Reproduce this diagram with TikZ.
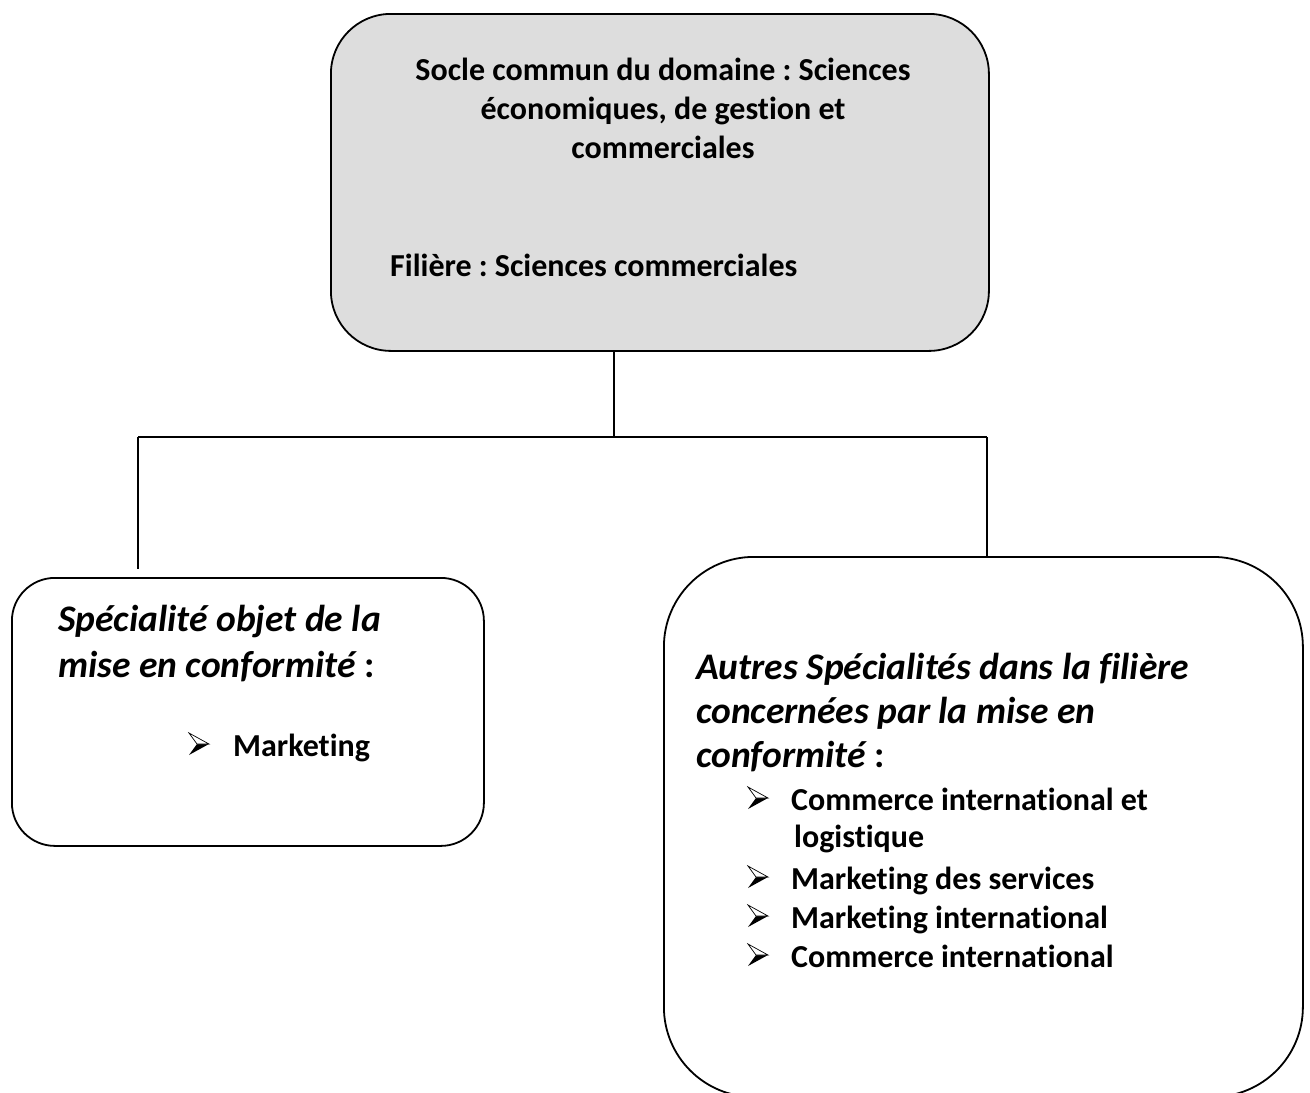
\documentclass[tikz,border=0pt]{standalone}
\usepackage{fontspec}
\setmainfont[Ligatures=NoCommon]{Carlito}
\definecolor{boxgray}{HTML}{DDDDDD}
\frenchspacing
\begin{document}
\begin{tikzpicture}[x=1pt,y=-1pt,
  box/.style={draw=black, line width=1.8pt, anchor=north west, inner sep=0pt},
  link/.style={draw=black, line width=1.5pt},
  txt/.style={inner sep=0pt, anchor=base west, font=\fontsize{32}{38}\selectfont\bfseries},
  ctxt/.style={txt, anchor=base},
  itxt/.style={inner sep=0pt, anchor=base west, font=\fontsize{37.5}{44}\selectfont\bfseries\itshape},
  wbul/.pic={
    \fill[black] (0,-1) -- (20,-12) -- (8,-12) -- cycle;
    \filldraw[fill=white, draw=black, line width=0.7pt, line join=miter] (0,-23) -- (20,-12) -- (8,-12) -- cycle;
  }]
\useasboundingbox (0,0) rectangle (1310,1093);
% boxes
\node[box, fill=boxgray, minimum width=658pt, minimum height=337pt, rounded corners=60pt] (top) at (330,13) {};
\node[box, minimum width=472pt, minimum height=268pt, rounded corners=43pt] (left) at (11,577) {};
\node[box, minimum width=639pt, minimum height=540pt, rounded corners=90pt] (right) at (663,556) {};
% connectors
\coordinate (j) at (614,437);
\coordinate (jl) at (138,437);
\coordinate (jr) at (987,437);
\coordinate (lend) at (138,569);
\draw[link] (top.south -| j) -- (j);
\draw[link] (jl) -- (jr);
\draw[link] (jl) -- (lend);
\draw[link] (jr) -- (jr |- right.north);
% top text
\node[ctxt] (t1) at (663,80) {Socle commun du domaine : Sciences};
\node[ctxt] (t2) at (663,119) {économiques, de gestion et};
\node[ctxt] (t3) at (663,158) {commerciales};
\node[txt] (t4) at (390,276) {Filière : Sciences commerciales};
% left text
\node[itxt] (l1) at (58,631) {Spécialité objet de la};
\node[itxt] (l2) at (58,677) {mise en conformité\upshape\ :};
\pic at (189,756) {wbul};
\node[txt] (lm1) at (233,756) {Marketing};
% right text
\node[itxt] (r1) at (696,679) {Autres Spécialités dans la filière};
\node[itxt] (r2) at (696,723) {concernées par la mise en};
\node[itxt] (r3) at (696,767) {conformité\upshape\ :};
\pic at (748,810) {wbul};
\node[txt] (rm1) at (791,810) {Commerce international et};
\node[txt] (rm1b) at (794,847) {logistique};
\pic at (748,889) {wbul};
\node[txt] (rm2) at (791,889) {Marketing des services};
\pic at (748,928) {wbul};
\node[txt] (rm3) at (791,928) {Marketing international};
\pic at (748,967) {wbul};
\node[txt] (rm4) at (791,967) {Commerce international};
\end{tikzpicture}
\end{document}
